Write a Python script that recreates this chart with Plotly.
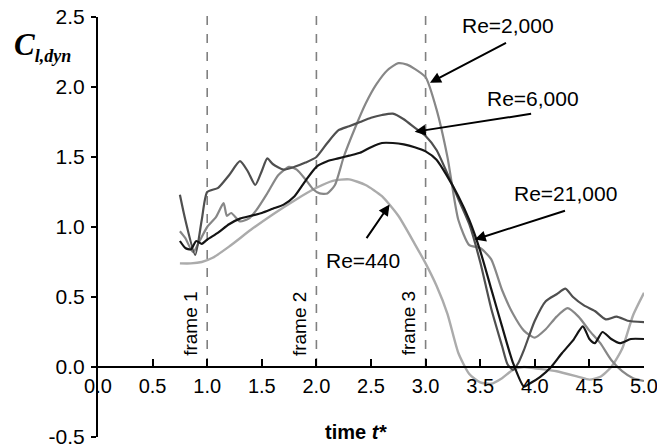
import plotly.graph_objects as go

# ---- data ----
t_440 = [0.75, 0.85, 0.95, 1.05, 1.2, 1.4, 1.6, 1.8, 2.0, 2.15, 2.3, 2.45, 2.6, 2.75, 2.9, 3.0, 3.1, 3.2, 3.3, 3.4,
         3.5, 3.6, 3.7, 3.8, 3.9, 4.0, 4.2, 4.4, 4.5, 4.6, 4.7, 4.8, 4.9, 5.0]
c_440 = [0.74, 0.74, 0.75, 0.78, 0.86, 0.98, 1.09, 1.19, 1.28, 1.33, 1.34, 1.30, 1.22, 1.08, 0.88, 0.74, 0.58, 0.38, 0.10, -0.05,
         -0.11, -0.12, -0.08, -0.02, 0.0, -0.01, -0.03, -0.07, -0.09, -0.07, 0.0, 0.13, 0.37, 0.53]

t_2000 = [0.75, 0.8, 0.87, 0.93, 1.0, 1.08, 1.15, 1.18, 1.22, 1.3, 1.38, 1.45, 1.55, 1.65, 1.75, 1.82, 1.9, 1.97, 2.03, 2.1,
          2.17, 2.25, 2.35, 2.45, 2.55, 2.65, 2.75, 2.83, 2.9, 3.0, 3.1, 3.2, 3.3, 3.4, 3.5, 3.6, 3.7, 3.8, 3.9, 4.0,
          4.1, 4.2, 4.3, 4.4, 4.5, 4.6, 4.7, 4.8, 4.9, 5.0]
c_2000 = [0.97, 0.92, 0.82, 0.90, 1.00, 1.07, 1.17, 1.08, 1.10, 1.04, 1.06, 1.12, 1.24, 1.37, 1.43, 1.41, 1.34, 1.27, 1.24, 1.24,
          1.30, 1.50, 1.70, 1.88, 2.02, 2.12, 2.17, 2.16, 2.13, 2.07, 1.84, 1.50, 1.05, 0.87, 0.85, 0.77, 0.55, 0.38, 0.26, 0.21,
          0.27, 0.36, 0.42, 0.36, 0.26, 0.17, 0.05, -0.03, -0.08, -0.10]

t_6000 = [0.75, 0.8, 0.89, 0.95, 1.0, 1.1, 1.2, 1.3, 1.37, 1.44, 1.5, 1.55, 1.6, 1.7, 1.8, 1.9, 2.0, 2.1, 2.2, 2.3,
          2.4, 2.5, 2.6, 2.7, 2.8, 2.9, 3.0, 3.1, 3.2, 3.3, 3.4, 3.5, 3.6, 3.7, 3.75, 3.8, 3.85, 3.9, 4.0, 4.1,
          4.2, 4.28, 4.35, 4.45, 4.55, 4.65, 4.75, 4.85, 5.0]
c_6000 = [1.23, 1.05, 0.80, 1.05, 1.25, 1.28, 1.37, 1.47, 1.40, 1.30, 1.40, 1.49, 1.45, 1.41, 1.43, 1.46, 1.50, 1.60, 1.69, 1.72,
          1.75, 1.78, 1.80, 1.81, 1.77, 1.71, 1.65, 1.55, 1.38, 1.20, 1.02, 0.75, 0.42, 0.15, 0.02, -0.02, 0.03, 0.12, 0.33, 0.47,
          0.52, 0.56, 0.50, 0.44, 0.40, 0.34, 0.36, 0.33, 0.32]

t_21000 = [0.75, 0.8, 0.85, 0.9, 0.95, 1.0, 1.1, 1.2, 1.3, 1.4, 1.5, 1.6, 1.7, 1.8, 1.9, 2.0, 2.1, 2.2, 2.3, 2.4,
           2.5, 2.6, 2.7, 2.8, 2.9, 3.0, 3.1, 3.2, 3.3, 3.4, 3.5, 3.6, 3.7, 3.8, 3.9, 3.95, 4.05, 4.15, 4.25, 4.35,
           4.44, 4.5, 4.55, 4.62, 4.7, 4.78, 4.88, 5.0]
c_21000 = [0.90, 0.85, 0.84, 0.90, 0.88, 0.91, 0.96, 1.02, 1.06, 1.08, 1.10, 1.13, 1.16, 1.22, 1.33, 1.43, 1.47, 1.49, 1.51, 1.53,
           1.57, 1.60, 1.60, 1.59, 1.57, 1.54, 1.48, 1.36, 1.22, 1.05, 0.83, 0.56, 0.29, 0.03, -0.14, -0.12, -0.07, 0.0, 0.10, 0.19,
           0.29, 0.20, 0.17, 0.25, 0.20, 0.17, 0.20, 0.20]

frame_times = [1.0, 2.0, 3.0]
frame_labels = ["frame 1", "frame 2", "frame 3"]
x_ticks = [0, 0.5, 1.0, 1.5, 2.0, 2.5, 3.0, 3.5, 4.0, 4.5, 5.0]
y_ticks = [-0.5, 0.0, 0.5, 1.0, 1.5, 2.0, 2.5]
y_tick_labels = ["-0.5", "0.0", "0.5", "1.0", "1.5", "2.0", "2.5"]

FONT = "Liberation Sans, Arial, sans-serif"

fig = go.Figure()
series = [
    (t_440, c_440, "#ababab", 2.4),
    (t_2000, c_2000, "#878787", 2.2),
    (t_6000, c_6000, "#4f4f4f", 2.2),
    (t_21000, c_21000, "#141414", 2.2),
]
for t, c, col, w in series:
    fig.add_trace(go.Scatter(x=t, y=c, mode="lines", line=dict(color=col, width=w, shape="spline", smoothing=0.6),
                             showlegend=False, hoverinfo="skip"))

# dashed frame lines
for ft in frame_times:
    fig.add_shape(type="line", xref="x", yref="paper", x0=ft, x1=ft, y0=1 / 6, y1=1.022,
                  line=dict(color="#808080", width=1.6, dash="dash"), layer="below")

# frame labels
for ft, lab in zip(frame_times, frame_labels):
    fig.add_annotation(x=ft - 0.155, y=0.31, xref="x", yref="y", text=lab, textangle=-90, showarrow=False,
                       font=dict(family=FONT, size=19, color="#000"))

# Re labels and arrows
labels = [
    ("Re=2,000", 3.75, 2.44, 3.04, 2.03, 3.75, 2.32),
    ("Re=6,000", 3.98, 1.92, 2.90, 1.68, 3.98, 1.81),
    ("Re=21,000", 4.28, 1.24, 3.45, 0.91, 4.29, 1.12),
    ("Re=440", 2.43, 0.76, 2.67, 1.16, 2.45, 0.91),
]
for txt, tx, ty, hx, hy, ax, ay in labels:
    fig.add_annotation(x=tx, y=ty, xref="x", yref="y", text=txt, showarrow=False,
                       font=dict(family=FONT, size=21, color="#000"))
    fig.add_annotation(x=hx, y=hy, ax=ax, ay=ay, xref="x", yref="y", axref="x", ayref="y", text="",
                       showarrow=True, arrowhead=2, arrowsize=1.1, arrowwidth=2, arrowcolor="#000")

# axis titles
fig.add_annotation(x=(356 - 98) / 546, y=(437 - 432) / 420, xref="paper", yref="paper", text="<b>time <i>t*</i></b>",
                   showarrow=False, font=dict(family=FONT, size=20, color="#000"), yanchor="middle")
fig.add_annotation(x=(12 - 98) / 546, y=(437 - 47) / 420, xref="paper", yref="paper", xanchor="left", yanchor="middle",
                   text="<b><i>C</i></b><sub><span style='font-size:18px'><b><i>l,dyn</i></b></span></sub>",
                   showarrow=False,
                   font=dict(family="Liberation Serif, Times New Roman, serif", size=31, color="#000"))

fig.update_layout(
    width=657, height=446,
    margin=dict(l=98, r=13, t=17, b=9, autoexpand=False),
    paper_bgcolor="white", plot_bgcolor="white",
    xaxis=dict(range=[0, 5], tickvals=x_ticks, tickformat=".1f", anchor="free", position=1 / 6,
               showline=True, linecolor="#000", linewidth=2, ticks="inside", ticklen=7, tickwidth=2, tickcolor="#000",
               showgrid=False, zeroline=False, tickfont=dict(family=FONT, size=20, color="#000"),
               ticklabelstandoff=1, automargin=False, ticklabeloverflow="allow"),
    yaxis=dict(range=[-0.5, 2.5], tickvals=y_ticks, ticktext=y_tick_labels,
               showline=True, linecolor="#000", linewidth=2, ticks="outside", ticklen=5, tickwidth=2, tickcolor="#000",
               showgrid=False, zeroline=False, tickfont=dict(family=FONT, size=21, color="#000"),
               ticklabelstandoff=2, automargin=False, ticklabeloverflow="allow"),
)

fig.write_html("out.html", config={"displayModeBar": False},
               post_script="document.body.style.margin='0';document.body.style.overflow='hidden';")
